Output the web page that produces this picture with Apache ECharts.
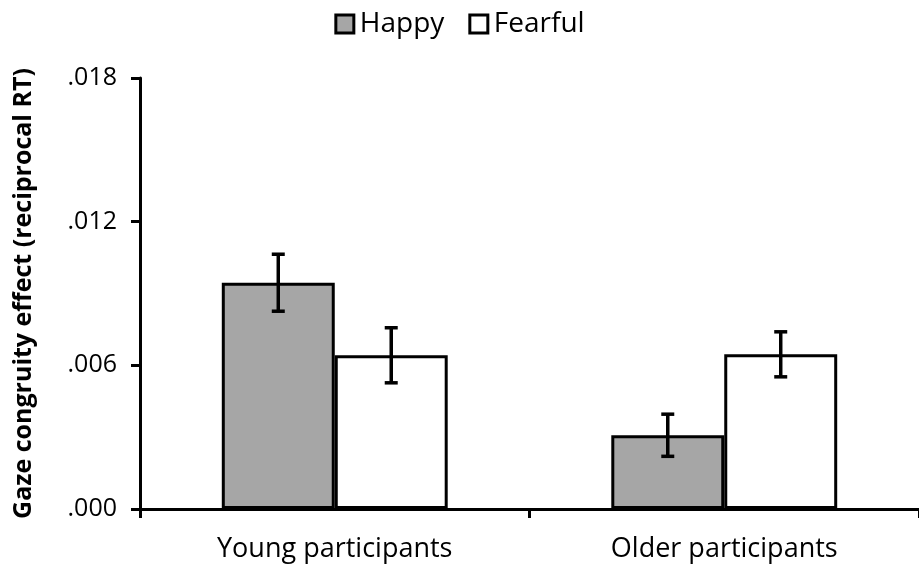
<!DOCTYPE html>
<html>
<head>
<meta charset="utf-8">
<script src="https://cdn.jsdelivr.net/npm/echarts@6/dist/echarts.min.js"></script>
<style>
  html, body { margin: 0; padding: 0; background: #fff; }
  #myChart { width: 919px; height: 573px; }
</style>
</head>
<body>
<div id="myChart"></div>
<script>
  // values
  var groups = ['Young participants', 'Older participants']
  var happy = [0.00945, 0.00308]
  var happyErr = [0.00119, 0.00088]
  var fearful = [0.00642, 0.00646]
  var fearfulErr = [0.00115, 0.00094]
  var yTicks = [0, 0.006, 0.012, 0.018]

  var BAR_PCT = 0.29
  var FONT = '"Open Sans", Lato, sans-serif'

  function errSeries (vals, errs, side) {
    return {
      type: 'custom',
      silent: true,
      z: 5,
      data: vals.map(function (v, i) { return [i, v - errs[i], v + errs[i]] }),
      renderItem: function (params, api) {
        var band = api.size([1, 0])[0]
        var off = side * band * BAR_PCT / 2
        var lo = api.coord([api.value(0), api.value(1)])
        var hi = api.coord([api.value(0), api.value(2)])
        var x = lo[0] + off
        var cap = 6.5
        var st = { stroke: '#000', lineWidth: 3.5 }
        return {
          type: 'group',
          children: [
            { type: 'line', shape: { x1: x, y1: lo[1], x2: x, y2: hi[1] }, style: st },
            { type: 'line', shape: { x1: x - cap, y1: lo[1], x2: x + cap, y2: lo[1] }, style: st },
            { type: 'line', shape: { x1: x - cap, y1: hi[1], x2: x + cap, y2: hi[1] }, style: st }
          ]
        }
      }
    }
  }

  var option = {
    animation: false,
    textStyle: { fontFamily: FONT },
    legend: {
      top: 5,
      left: 'center',
      icon: 'rect',
      itemWidth: 18,
      itemHeight: 18,
      itemGap: 24,
      data: ['Happy', 'Fearful'],
      itemStyle: { borderWidth: 3, borderColor: '#000' },
      textStyle: { fontSize: 28, color: '#000', fontFamily: FONT, padding: [0, 0, 0, 1] }
    },
    grid: { left: 140, right: -5, top: 78, bottom: 64, containLabel: false },
    xAxis: {
      type: 'category',
      data: groups,
      axisLine: { lineStyle: { color: '#000', width: 3 } },
      axisTick: { show: true, length: 9, lineStyle: { color: '#000', width: 3 } },
      axisLabel: { color: '#000', fontSize: 27, margin: 27, fontFamily: FONT }
    },
    yAxis: {
      type: 'value',
      min: yTicks[0],
      max: yTicks[yTicks.length - 1],
      interval: yTicks[1] - yTicks[0],
      name: 'Gaze congruity effect (reciprocal RT)',
      nameLocation: 'middle',
      nameGap: 104,
      nameTextStyle: { fontSize: 25, fontWeight: 'bold', color: '#000', fontFamily: FONT },
      axisLine: { show: true, lineStyle: { color: '#000', width: 3 } },
      axisTick: { show: true, length: 9, lineStyle: { color: '#000', width: 3 } },
      splitLine: { show: false },
      axisLabel: {
        color: '#000',
        fontSize: 25,
        margin: 23,
        fontFamily: FONT,
        formatter: function (v) { return v.toFixed(3).replace(/^0/, '') }
      }
    },
    series: [
      {
        name: 'Happy',
        type: 'bar',
        data: happy,
        barWidth: (BAR_PCT * 100) + '%',
        barGap: '0%',
        itemStyle: { color: '#a6a6a6', borderColor: '#000', borderWidth: 3 }
      },
      {
        name: 'Fearful',
        type: 'bar',
        data: fearful,
        barWidth: (BAR_PCT * 100) + '%',
        barGap: '0%',
        itemStyle: { color: '#fff', borderColor: '#000', borderWidth: 3 }
      },
      errSeries(happy, happyErr, -1),
      errSeries(fearful, fearfulErr, 1)
    ]
  }

  var myChart = echarts.init(document.getElementById('myChart'))
  myChart.setOption(option)
</script>
</body>
</html>
